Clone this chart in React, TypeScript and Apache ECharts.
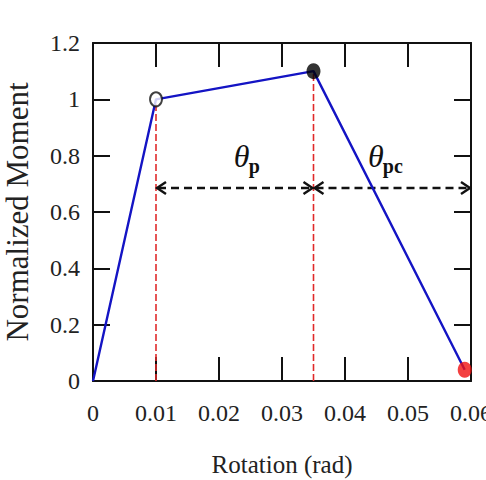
import React, { useEffect, useRef } from "react";
import * as echarts from "echarts";

// Backbone curve: rotation (rad) vs normalized moment
const rotation = [0, 0.01, 0.035, 0.059];
const moment = [0, 1.0, 1.1, 0.04];

// Key points on the curve: yield, peak (capping), ultimate
const yieldIndex = 1;
const peakIndex = 2;
const ultimateIndex = 3;

// Dimension arrows for the plastic and post-capping rotation spans
const arrowLevel = 0.685;
const spanStart = [0.01, 0.035];
const spanEnd = [0.035, 0.06];
const spanSubscripts = ["p", "pc"];
const spanLabelX = [0.0236, 0.0449];
const spanLabelY = [0.8, 0.8];

const SERIF = '"Liberation Serif", "Times New Roman", serif';
const INK = "#111";

export default function App() {
  const ref = useRef<HTMLDivElement>(null);

  useEffect(() => {
    if (!ref.current) return;
    const chart = echarts.init(ref.current, null, { renderer: "svg" });

    const curve = rotation.map((x, i) => [x, moment[i]]);
    const guides = [yieldIndex, peakIndex].map((i) => ({
      type: "line",
      data: [
        [rotation[i], 0],
        [rotation[i], moment[i]],
      ],
      symbol: "none",
      silent: true,
      z: 2,
      lineStyle: { color: "#e02a2a", width: 1.6, type: [7, 3] },
    }));

    const xAxisBase = {
      type: "value",
      min: 0,
      max: 0.06,
      interval: 0.01,
      splitLine: { show: false },
      axisLine: { show: true, onZero: false, lineStyle: { color: INK, width: 2 } },
      axisTick: { show: true, inside: true, length: 24, lineStyle: { color: INK, width: 2 } },
    };
    const yAxisBase = {
      type: "value",
      min: 0,
      max: 1.2,
      interval: 0.2,
      splitLine: { show: false },
      axisLine: { show: true, onZero: false, lineStyle: { color: INK, width: 2 } },
      axisTick: { show: true, inside: true, length: 17, lineStyle: { color: INK, width: 2 } },
    };

    chart.setOption({
      animation: false,
      backgroundColor: "#fff",
      grid: { left: 93, right: 15, top: 43, bottom: 99, containLabel: false, outerBoundsMode: "none" },
      xAxis: [
        {
          ...xAxisBase,
          position: "bottom",
          name: "Rotation (rad)",
          nameLocation: "middle",
          nameGap: 71,
          nameTextStyle: { fontFamily: SERIF, fontSize: 25, color: "#222" },
          axisLabel: { fontFamily: SERIF, fontSize: 24, color: "#222", margin: 20 },
        },
        { ...xAxisBase, position: "top", axisLabel: { show: false } },
      ],
      yAxis: [
        {
          ...yAxisBase,
          position: "left",
          name: "Normalized Moment",
          nameLocation: "middle",
          nameGap: 60,
          nameTextStyle: { fontFamily: SERIF, fontSize: 31, color: "#222" },
          axisLabel: { fontFamily: SERIF, fontSize: 24, color: "#222", margin: 13 },
        },
        { ...yAxisBase, position: "right", axisLabel: { show: false } },
      ],
      series: [
        ...guides,
        {
          type: "custom",
          clip: false,
          silent: true,
          z: 3,
          data: spanStart.map((s, i) => [s, spanEnd[i], arrowLevel]),
          encode: { x: [0, 1], y: 2 },
          renderItem: (params: any, api: any) => {
            const a = api.coord([api.value(0), api.value(2)]);
            const b = api.coord([api.value(1), api.value(2)]);
            const h = 6;
            const w = 10;
            const stroke = { stroke: INK, lineWidth: 2.4, fill: "none" };
            return {
              type: "group",
              children: [
                {
                  type: "line",
                  shape: { x1: a[0] + 2, y1: a[1], x2: b[0] - 2, y2: b[1] },
                  style: { ...stroke, lineDash: [8, 5] },
                },
                {
                  type: "polyline",
                  shape: { points: [[a[0] + w, a[1] - h], [a[0] + 1, a[1]], [a[0] + w, a[1] + h]] },
                  style: stroke,
                },
                {
                  type: "polyline",
                  shape: { points: [[b[0] - w, b[1] - h], [b[0] - 1, b[1]], [b[0] - w, b[1] + h]] },
                  style: stroke,
                },
              ],
            };
          },
        },
        {
          type: "line",
          data: curve,
          symbol: "none",
          z: 4,
          lineStyle: { color: "#1414c4", width: 2.4 },
        },
        {
          type: "custom",
          clip: false,
          silent: true,
          z: 5,
          data: spanLabelX.map((x, i) => [x, spanLabelY[i]]),
          renderItem: (params: any, api: any) => {
            const p = api.coord([api.value(0), api.value(1)]);
            return {
              type: "group",
              children: [
                {
                  type: "text",
                  x: p[0],
                  y: p[1],
                  style: {
                    text: "θ",
                    fontFamily: SERIF,
                    fontStyle: "italic",
                    fontSize: 32,
                    fill: INK,
                    align: "center",
                    verticalAlign: "middle",
                  },
                },
                {
                  type: "text",
                  x: p[0] + 7,
                  y: p[1] + 10,
                  style: {
                    text: spanSubscripts[params.dataIndex],
                    fontFamily: SERIF,
                    fontWeight: "bold",
                    fontSize: 20,
                    fill: INK,
                    align: "left",
                    verticalAlign: "middle",
                  },
                },
              ],
            };
          },
        },
        {
          type: "scatter",
          z: 6,
          data: [
            {
              value: [rotation[yieldIndex], moment[yieldIndex]],
              symbolSize: [12, 14],
              itemStyle: { color: "#fff", borderColor: INK, borderWidth: 2 },
            },
            {
              value: [rotation[peakIndex], moment[peakIndex]],
              symbolSize: [14, 16],
              itemStyle: { color: "#000" },
            },
            {
              value: [rotation[ultimateIndex], moment[ultimateIndex]],
              symbolSize: [14, 16],
              itemStyle: { color: "#f01010" },
            },
          ],
          symbol: "circle",
        },
      ],
    });

    return () => chart.dispose();
  }, []);

  return (
    <div
      ref={ref}
      style={{ position: "fixed", left: 0, top: 0, width: 486, height: 480 }}
    />
  );
}
